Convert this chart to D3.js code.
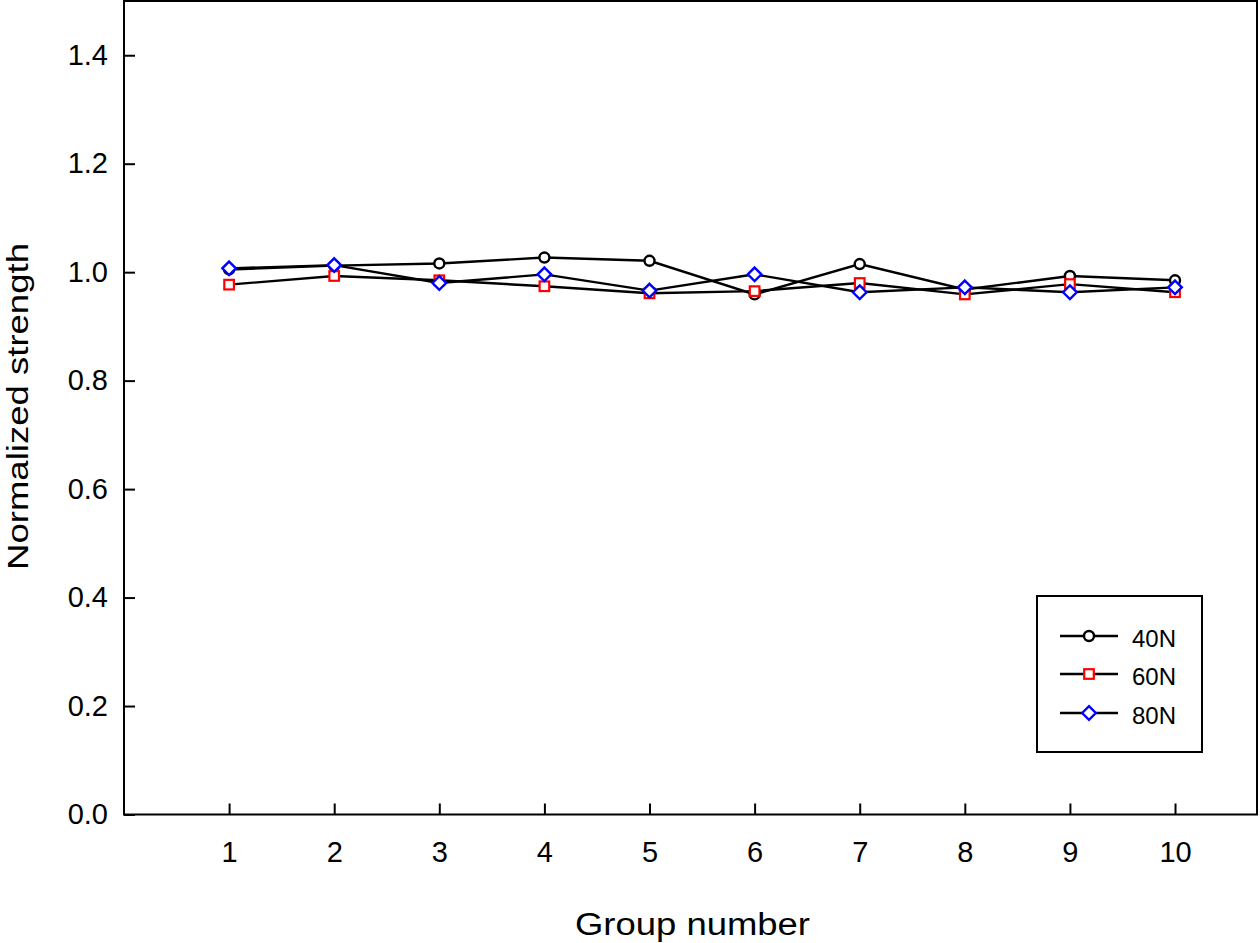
<!DOCTYPE html>
<html><head><meta charset="utf-8">
<script src="https://cdn.jsdelivr.net/npm/d3@7/dist/d3.min.js"></script>
<style>body{margin:0;background:#fff}svg{display:block;font-family:"Liberation Sans",Arial,sans-serif}</style>
</head><body><svg id="c" width="1260" height="943"></svg>
<script>
const groups = [1,2,3,4,5,6,7,8,9,10];
const s40N = [1.005,1.012,1.016,1.027,1.021,0.959,1.015,0.968,0.993,0.985];
const s60N = [0.977,0.993,0.985,0.974,0.961,0.965,0.980,0.959,0.978,0.963];
const s80N = [1.007,1.013,0.980,0.996,0.966,0.996,0.963,0.972,0.963,0.972];
const yTicks = [0.0,0.2,0.4,0.6,0.8,1.0,1.2,1.4];
const seriesNames = ["40N","60N","80N"];

const svg = d3.select("#c");
const L=124,R=1257,T=1,B=814.5;
const x = d3.scaleLinear().domain([0,10.78]).range([L,R]);
const y = d3.scaleLinear().domain([0,1.5]).range([B,T]);

svg.append("rect").attr("x",L).attr("y",T).attr("width",R-L).attr("height",B-T)
  .attr("fill","none").attr("stroke","#000").attr("stroke-width",2);

const gx = svg.append("g").attr("transform",`translate(0,${B})`)
  .call(d3.axisBottom(x).tickValues(groups).tickSize(-11).tickPadding(27).tickFormat(d3.format("d")));
const gy = svg.append("g").attr("transform",`translate(${L},0)`)
  .call(d3.axisLeft(y).tickValues(yTicks).tickSize(-11).tickPadding(16).tickFormat(d3.format(".1f")));
[gx,gy].forEach(g=>{
  g.attr("font-size",29).attr("font-family","Liberation Sans, Arial, sans-serif");
  g.select(".domain").remove();
  g.selectAll(".tick line").attr("stroke","#000").attr("stroke-width",2);
  g.selectAll(".tick text").attr("font-size",29).attr("fill","#000");
});

svg.append("text").attr("x",692.5).attr("y",935).attr("text-anchor","middle")
  .attr("font-size",31).attr("textLength",235).attr("lengthAdjust","spacingAndGlyphs").text("Group number");
svg.append("text").attr("transform","translate(28,406.5) rotate(-90)").attr("text-anchor","middle")
  .attr("font-size",30).attr("textLength",327).attr("lengthAdjust","spacingAndGlyphs").text("Normalized strength");

const line = d3.line().x((d,i)=>x(groups[i])).y(d=>y(d));
const data = [s40N,s60N,s80N];
const colors = ["#000","#ff0000","#0000ff"];

function marker(g, k, cx, cy){
  if(k===0) g.append("circle").attr("cx",cx).attr("cy",cy).attr("r",5)
    .attr("fill","#fff").attr("stroke",colors[k]).attr("stroke-width",2.4);
  else if(k===1) g.append("rect").attr("x",cx-4.8).attr("y",cy-4.8).attr("width",9.6).attr("height",9.6)
    .attr("fill","#fff").attr("stroke",colors[k]).attr("stroke-width",2.2);
  else g.append("path").attr("d",`M${cx},${cy-6.8}L${cx+6.8},${cy}L${cx},${cy+6.8}L${cx-6.8},${cy}Z`)
    .attr("fill","#fff").attr("stroke",colors[k]).attr("stroke-width",2.4);
}

data.forEach((s,k)=>{
  svg.append("path").datum(s).attr("d",line).attr("fill","none").attr("stroke","#000").attr("stroke-width",2.4);
});
data.forEach((s,k)=>{
  const g = svg.append("g");
  s.forEach((v,i)=>marker(g,k,x(groups[i]),y(v)));
});

svg.append("rect").attr("x",1037).attr("y",596).attr("width",165).attr("height",156)
  .attr("fill","#fff").attr("stroke","#000").attr("stroke-width",2);
const ly=[636,674,713];
seriesNames.forEach((n,k)=>{
  const g=svg.append("g");
  g.append("line").attr("x1",1060).attr("x2",1118).attr("y1",ly[k]).attr("y2",ly[k]).attr("stroke","#000").attr("stroke-width",2.4);
  marker(g,k,1089,ly[k]);
  g.append("text").attr("x",1132).attr("y",ly[k]+10.5).attr("font-size",24).text(n);
});
</script></body></html>
